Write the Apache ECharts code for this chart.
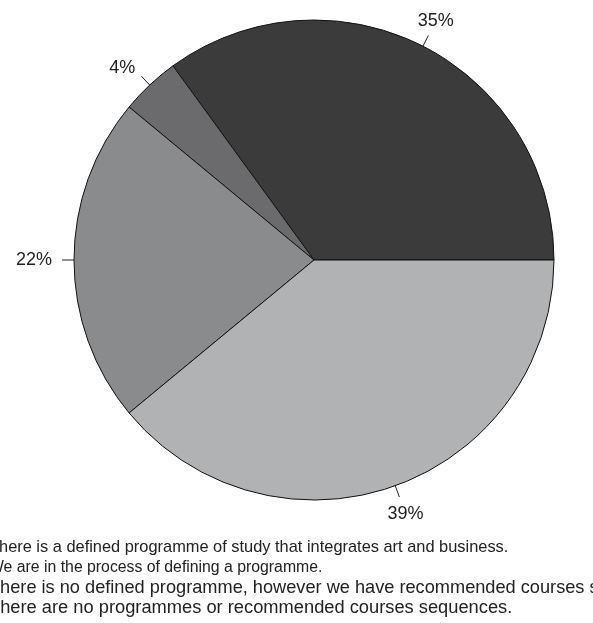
<!DOCTYPE html>
<html>
<head>
<meta charset="utf-8">
<script src="https://cdn.jsdelivr.net/npm/echarts@6/dist/echarts.min.js"></script>
<style>
  html, body { margin: 0; padding: 0; background: #fff; overflow: hidden; }
  #chart { width: 615px; height: 680px; margin-left: -22px; }
</style>
</head>
<body>
<div id="chart"></div>
<script>
const categories = [
  "There is a defined programme of study that integrates art and business.",
  "We are in the process of defining a programme.",
  "There is no defined programme, however we have recommended courses sequences.",
  "There are no programmes or recommended courses sequences."
];
const values = [35, 4, 22, 39];
const colors = ["#3b3b3b", "#6b6b6d", "#8a8b8d", "#b1b2b4"];
// the source text is set a little unevenly from line to line
const legendFontSizes = [16.4, 15.8, 18.2, 18.3];

let myChart = echarts.init(document.getElementById("chart"));

// put the label just past the end of its guide line, like the original plot
function placeLabel(params) {
  const pts = params.labelLinePoints;
  const a = pts[0];
  const b = pts[1];
  const len = Math.hypot(b[0] - a[0], b[1] - a[1]) || 1;
  const dx = (b[0] - a[0]) / len;
  const dy = (b[1] - a[1]) / len;
  const ax = b[0] + dx * len;
  const ay = b[1] + dy * len;
  if (Math.abs(dx) < 0.6) {
    return {
      x: ax + 2,
      y: ay + (dy < 0 ? -4 : 6),
      align: "center",
      verticalAlign: "middle",
      labelLinePoints: pts
    };
  }
  return {
    x: ax + (dx < 0 ? 2 : -2),
    y: ay,
    align: dx < 0 ? "right" : "left",
    verticalAlign: "middle",
    labelLinePoints: pts
  };
}

const option = {
  animation: false,
  legend: {
    orient: "vertical",
    left: 0,
    top: 533,
    itemWidth: 0,
    itemHeight: 17,
    itemGap: 1,
    icon: "rect",
    selectedMode: false,
    textStyle: {
      fontFamily: "Liberation Sans, Arial, sans-serif",
      fontSize: 16.5,
      lineHeight: 17,
      color: "#222"
    },
    data: categories.map((name, i) => ({
      name: name,
      textStyle: { fontSize: legendFontSizes[i] }
    }))
  },
  series: [
    {
      type: "pie",
      center: [336, 260],
      radius: 240,
      startAngle: 0,
      clockwise: false,
      avoidLabelOverlap: false,
      data: categories.map((name, i) => ({
        name: name,
        value: values[i],
        itemStyle: { color: colors[i] }
      })),
      itemStyle: { borderColor: "#111", borderWidth: 1 },
      label: {
        formatter: "{c}%",
        fontFamily: "Liberation Sans, Arial, sans-serif",
        fontSize: 18,
        color: "#222"
      },
      labelLine: {
        length: 12,
        length2: 0,
        lineStyle: { color: "#222", width: 1 }
      },
      labelLayout: placeLabel,
      emphasis: { disabled: true }
    }
  ]
};

myChart.setOption(option);
</script>
</body>
</html>
